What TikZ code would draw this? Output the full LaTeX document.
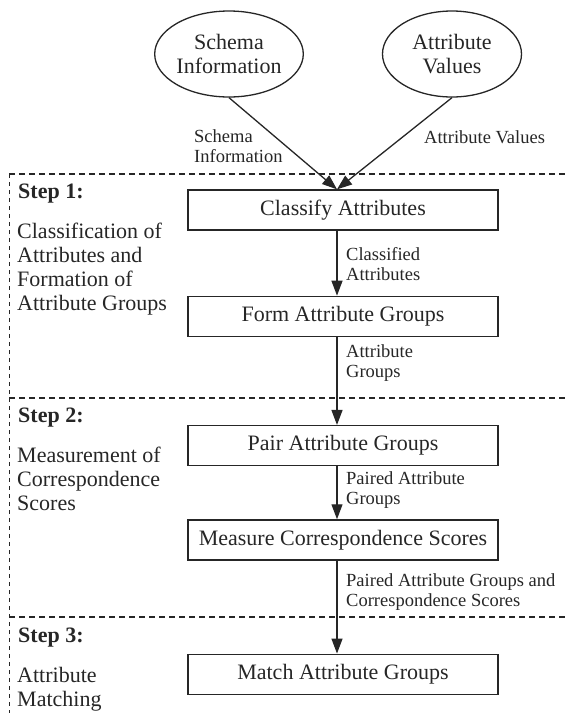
\documentclass[tikz,border=0pt]{standalone}
\usepackage{fontspec}
\setmainfont{Liberation Serif}
\usepackage{tikz}
\usetikzlibrary{shapes,arrows,positioning,calc,arrows.meta}

\tikzset{
    bigfont/.style={font=\fontsize{22}{24}\selectfont},
    src/.style={draw, ellipse, line width=1.3pt, minimum width=139pt, minimum height=86pt, inner sep=0pt, align=center, bigfont},
    proc/.style={draw, line width=1.3pt, minimum width=310pt, minimum height=40pt, inner sep=0pt, bigfont},
    flowlbl/.style={align=left, inner sep=0pt, anchor=west, font=\fontsize{18.5}{20.5}\selectfont},
    stephead/.style={inner sep=0pt, anchor=base west, font=\fontsize{22}{24}\selectfont\bfseries},
    stepdesc/.style={inner sep=0pt, anchor=north west, align=left, bigfont},
    flow/.style={line width=1.3pt, -{Triangle[length=15pt,width=11pt]}},
    stepline/.style={line width=1.3pt, dash pattern=on 6pt off 4pt},
    sideline/.style={line width=1pt, dash pattern=on 4pt off 4pt}
}

\begin{document}
\begin{tikzpicture}[x=1pt, y=-1pt, color=black!85]
    \useasboundingbox (0,0) rectangle (566,713);

    % inputs
    \node [src] (schema) at (229,54) {Schema\\Information};
    \node [src] (values) at (452,54) {Attribute\\Values};

    % steps
    \node [proc] (classify) at (343,210) {Classify Attributes};
    \node [proc, below=65pt of classify] (form) {Form Attribute Groups};
    \node [proc, below=88pt of form] (pair) {Pair Attribute Groups};
    \node [proc, below=53pt of pair] (measure) {Measure Correspondence Scores};
    \node [proc, below=93pt of measure] (match) {Match Attribute Groups};

    \draw [flow] (schema.south) -- ([xshift=-6pt]classify.north);
    \draw [flow] (values.south) -- ([xshift=-6pt]classify.north);
    \draw [flow] ([xshift=-6pt]classify.south) -- ([xshift=-6pt]form.north);
    \draw [flow] ([xshift=-6pt]form.south) -- ([xshift=-6pt]pair.north);
    \draw [flow] ([xshift=-6pt]pair.south) -- ([xshift=-6pt]measure.north);
    \draw [flow] ([xshift=-6pt]measure.south) -- ([xshift=-6pt]match.north);

    % labels on the flow
    \node [flowlbl] (lschema) at (194,146) {Schema\\Information};
    \node [flowlbl] (lvalues) at (424,137) {Attribute Values};
    \node [flowlbl] (lclass) at (346,264) {Classified\\Attributes};
    \node [flowlbl] (lgroups) at (346,363) {Attribute\\Groups};
    \node [flowlbl] (lpaired) at (346,490) {Paired Attribute\\Groups};
    \node [flowlbl] (lscores) at (346,592) {Paired Attribute Groups and\\Correspondence Scores};

    % step frames
    \draw [stepline] (9,174) -- (566,174);
    \draw [stepline] (9,398) -- (566,398);
    \draw [stepline] (9,617) -- (566,617);
    \draw [sideline] (9,174) -- (9,713);

    \node [stephead] (s1) at (18,198) {Step 1:};
    \node [stepdesc] (d1) at (17,223) {Classification of\\Attributes and\\Formation of\\Attribute Groups};
    \node [stephead] (s2) at (18,422) {Step 2:};
    \node [stepdesc] (d2) at (17,447) {Measurement of\\Correspondence\\Scores};
    \node [stephead] (s3) at (18,642) {Step 3:};
    \node [stepdesc] (d3) at (17,667) {Attribute\\Matching};
\end{tikzpicture}
\end{document}
